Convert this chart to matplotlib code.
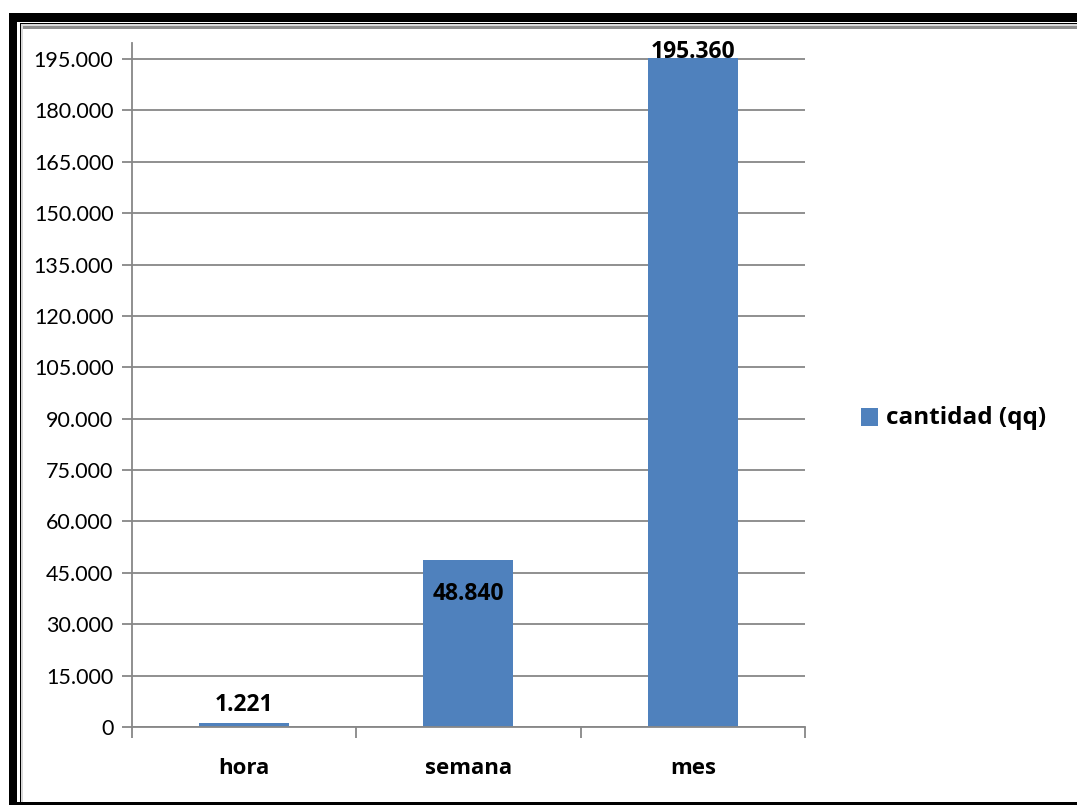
import matplotlib
matplotlib.use("Agg")
import matplotlib.pyplot as plt
from matplotlib.patches import Rectangle
from matplotlib.ticker import FixedLocator, FuncFormatter

categories = ["hora", "semana", "mes"]
values = [1221, 48840, 195360]
series_name = "cantidad (qq)"
y_ticks = list(range(0, 195001, 15000))

BAR_COLOR = "#4F81BD"
GRID_COLOR = "#878787"
FONT = "Lato"
BOLD_FONT = "Open Sans"

W, H = 1077, 805
fig = plt.figure(figsize=(W / 100, H / 100), dpi=100)
fig.patch.set_facecolor("white")


def fx(px):
    return px / W


def fy(py):
    return 1 - py / H


# double frame around the chart
def frect(x0, y0, x1, y1, color):
    fig.patches.append(Rectangle((fx(x0), fy(y1)), fx(x1) - fx(x0), fy(y0) - fy(y1),
                                 transform=fig.transFigure, facecolor=color,
                                 edgecolor="none", zorder=0))


frect(9, 13, 1100, 22, "black")        # top thick
frect(9, 13, 17, 805, "black")         # left thick
frect(9, 802, 1100, 810, "black")      # bottom
frect(19.5, 23, 1100, 24, "black")     # inner thin top
frect(19.5, 23, 20.5, 802, "black")    # inner thin left
frect(21, 24, 1100, 26, "#D9D9D9")
frect(21, 26, 1100, 29, "#8C8C8C")
frect(21, 24, 23, 802, "#D9D9D9")

ax = fig.add_axes([fx(131.5), fy(727), fx(805) - fx(131.5), fy(43) - fy(727)])
ax.set_facecolor("none")

x = list(range(len(categories)))
ax.bar(x, values, width=0.4, color=BAR_COLOR, zorder=3)

ax.set_xlim(-0.5, 2.5)
ax.set_ylim(0, 199700)

ax.set_yticks(y_ticks)
ax.yaxis.set_major_formatter(FuncFormatter(lambda v, p: f"{v:,.0f}".replace(",", ".")))
ax.grid(axis="y", color=GRID_COLOR, linewidth=1.3, zorder=1)
ax.tick_params(axis="y", length=7, width=1.3, color=GRID_COLOR, pad=6,
               labelsize=15.5, labelcolor="black")
for lab in ax.get_yticklabels():
    lab.set_fontfamily(FONT)

ax.set_xticks(x)
ax.set_xticklabels(categories, fontweight="bold", fontsize=16, fontfamily=BOLD_FONT)
ax.tick_params(axis="x", which="major", length=0, pad=22)
ax.xaxis.set_minor_locator(FixedLocator([-0.5, 0.5, 1.5, 2.5]))
ax.tick_params(axis="x", which="minor", length=8, width=1.3, color=GRID_COLOR)

for s in ("top", "right"):
    ax.spines[s].set_visible(False)
for s in ("left", "bottom"):
    ax.spines[s].set_color(GRID_COLOR)
    ax.spines[s].set_linewidth(1.3)
    ax.spines[s].set_zorder(4)

# value labels
offsets = [12.8, -24.5, 4.2]
for xi, v, off in zip(x, values, offsets):
    ax.annotate(f"{v:,.0f}".replace(",", "."), (xi, v), xytext=(0, off),
                textcoords="offset points", ha="center", va="center",
                fontsize=16.5, fontweight="bold", fontfamily=BOLD_FONT, zorder=5)

# legend
fig.patches.append(Rectangle((fx(861), fy(426)), fx(878) - fx(861), fy(408) - fy(426),
                             transform=fig.transFigure, facecolor=BAR_COLOR,
                             edgecolor="none"))
fig.text(fx(886), fy(417.5), series_name, ha="left", va="center",
         fontsize=17.5, fontweight="bold", fontfamily=BOLD_FONT)

fig.savefig("out.png", dpi=100)
